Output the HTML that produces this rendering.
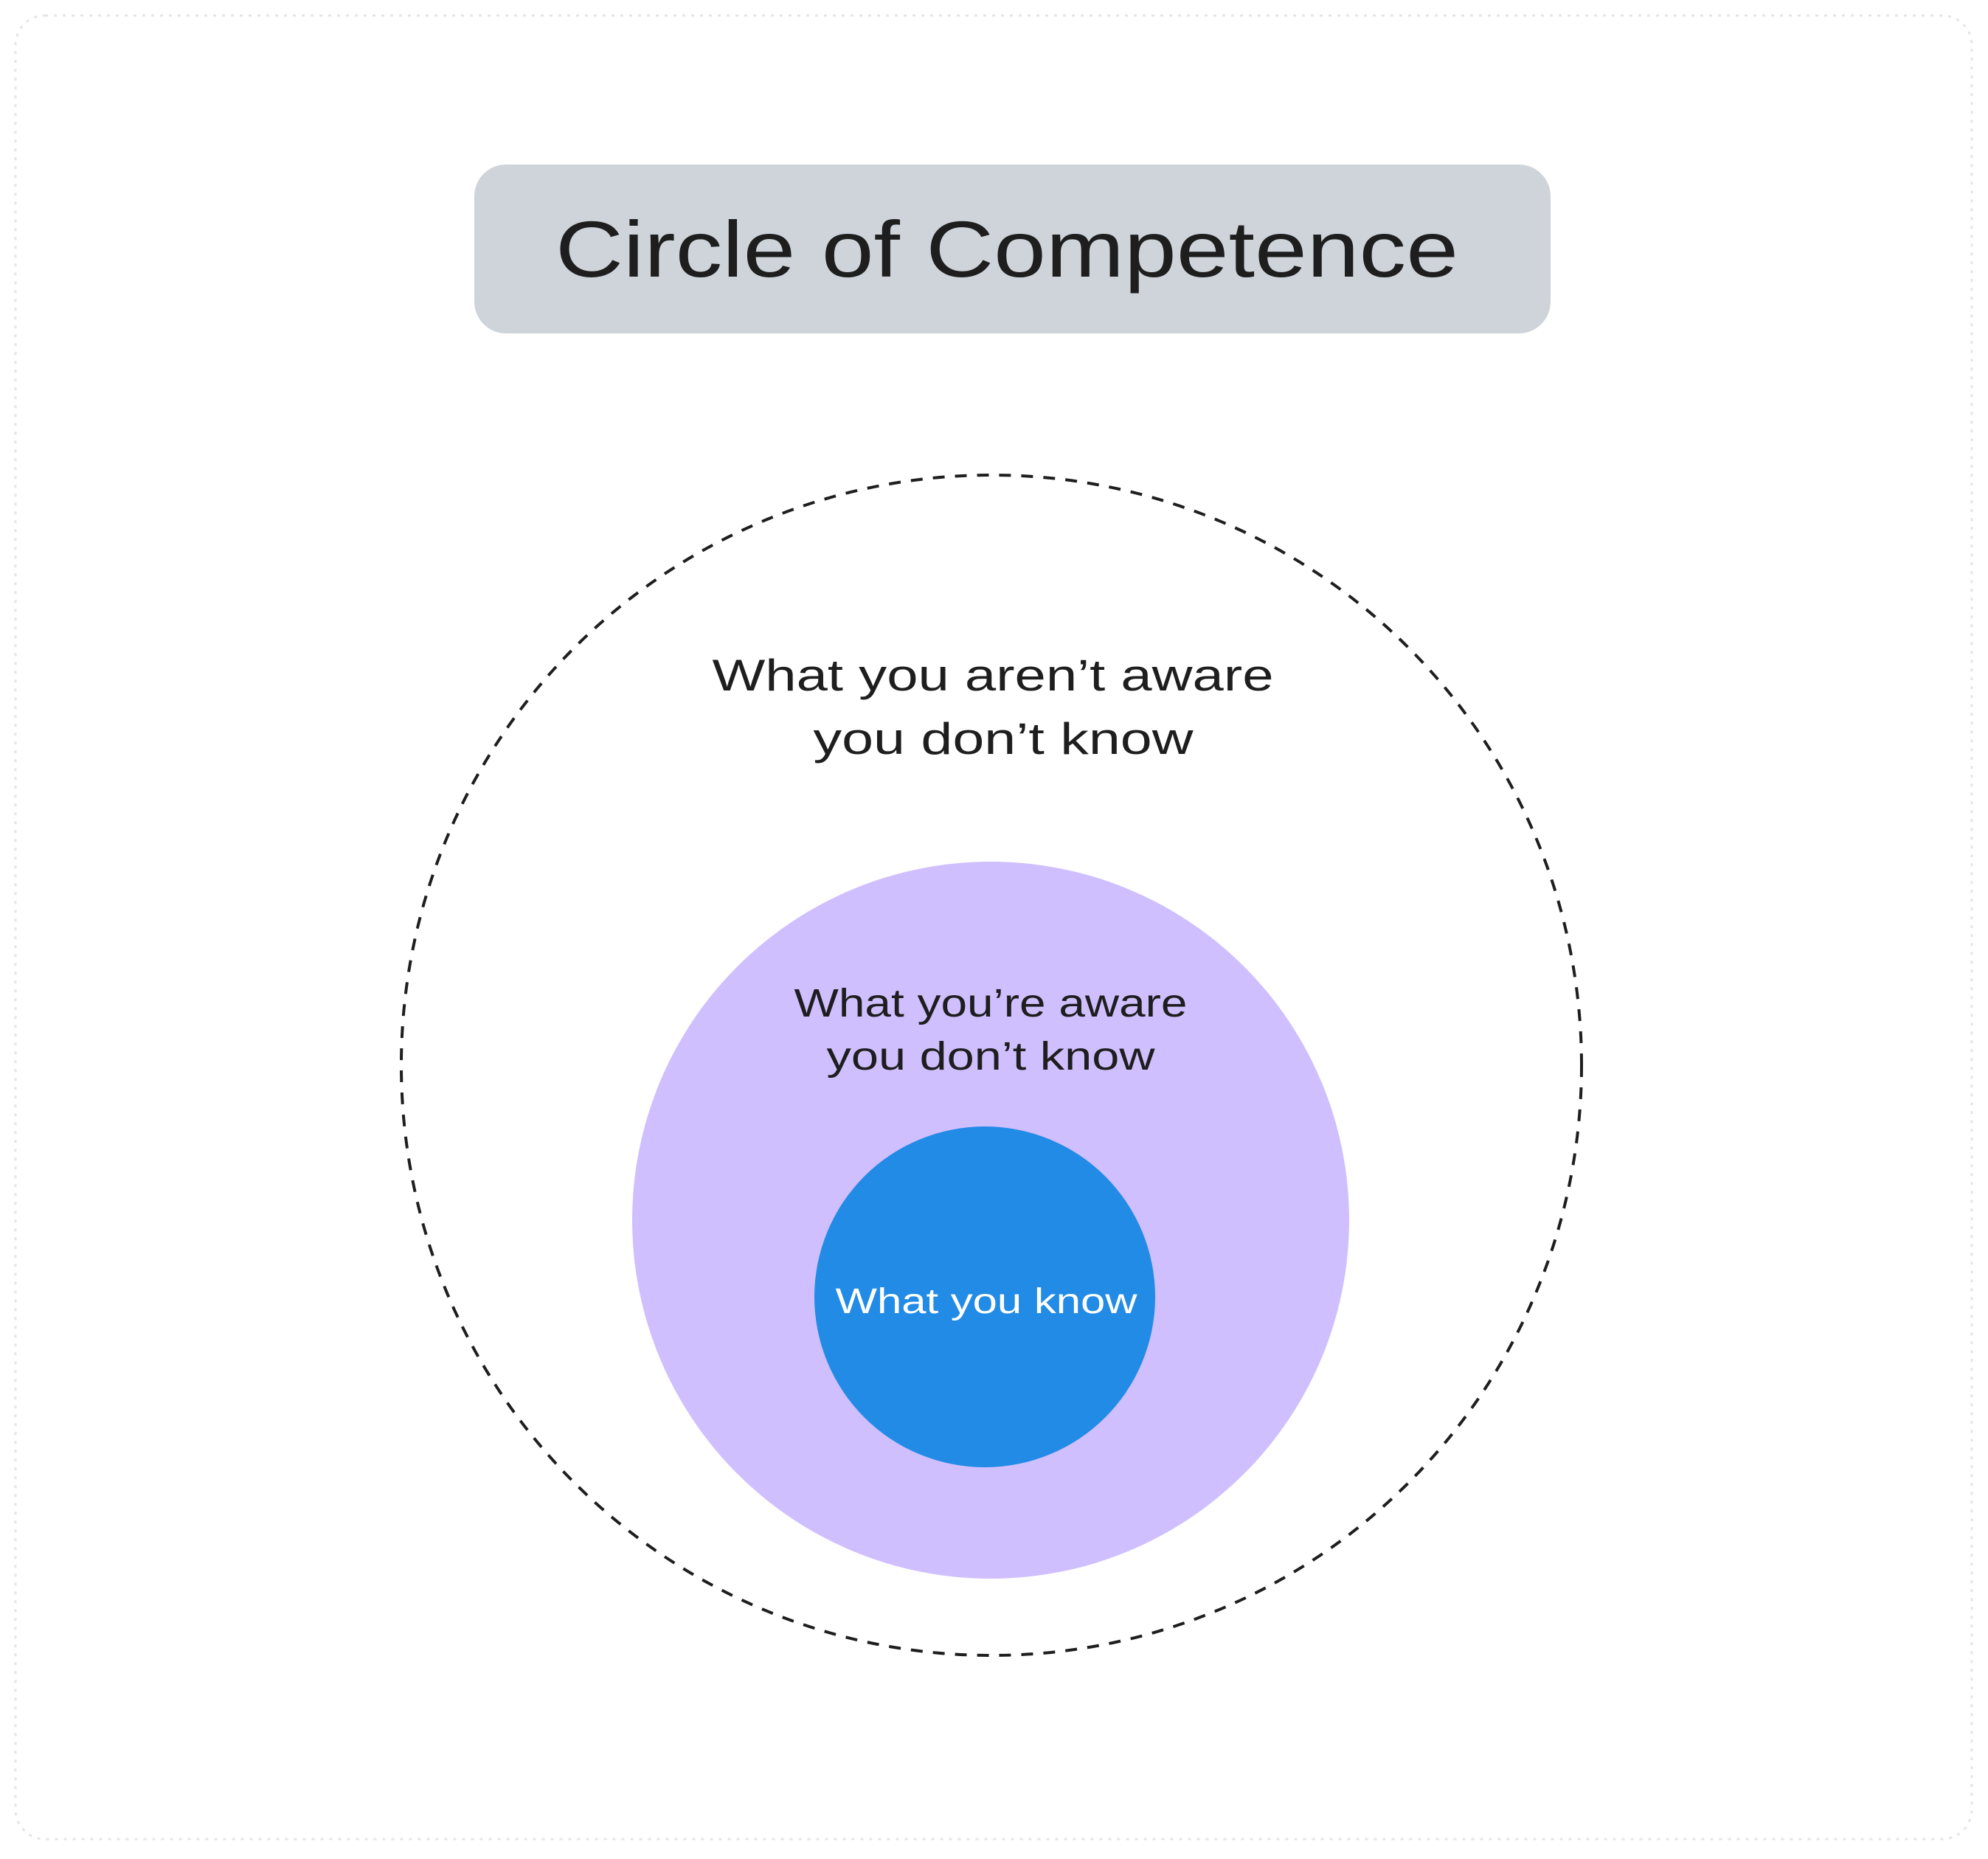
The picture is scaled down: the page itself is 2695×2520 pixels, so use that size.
<!DOCTYPE html>
<html><head><meta charset="utf-8"><style>
html,body{margin:0;padding:0;background:#fff;}
body{width:2695px;height:2515px;overflow:hidden;}
</style></head><body>
<svg width="2695" height="2515" viewBox="0 0 2695 2515" xmlns="http://www.w3.org/2000/svg">
<rect x="21" y="21" width="2652" height="2472" rx="40" fill="#fff" stroke="#e3e5e8" stroke-width="3" stroke-dasharray="4 8"/>
<rect x="643" y="223" width="1459" height="229" rx="43" fill="#ced4da"/>
<text x="1365" y="375" text-anchor="middle" font-family="Liberation Sans, sans-serif" font-size="108" fill="#1e1e1e" textLength="1224" lengthAdjust="spacingAndGlyphs">Circle of Competence</text>
<circle cx="1344" cy="1444" r="800" fill="none" stroke="#1e1e1e" stroke-width="4" stroke-dasharray="16 14"/>
<g font-family="Liberation Sans, sans-serif" font-size="60" fill="#1e1e1e" text-anchor="middle" lengthAdjust="spacingAndGlyphs">
<text x="1346" y="936" textLength="761" lengthAdjust="spacingAndGlyphs">What you aren’t aware</text>
<text x="1360" y="1022" textLength="515" lengthAdjust="spacingAndGlyphs">you don’t know</text>
</g>
<circle cx="1343" cy="1654" r="486" fill="#d0bfff"/>
<g font-family="Liberation Sans, sans-serif" font-size="54" fill="#1e1e1e" text-anchor="middle">
<text x="1343" y="1378" textLength="533" lengthAdjust="spacingAndGlyphs">What you’re aware</text>
<text x="1343" y="1450" textLength="445" lengthAdjust="spacingAndGlyphs">you don’t know</text>
</g>
<circle cx="1335" cy="1758" r="231" fill="#228be6"/>
<text x="1337" y="1780" text-anchor="middle" font-family="Liberation Sans, sans-serif" font-size="48" fill="#fff" textLength="409" lengthAdjust="spacingAndGlyphs">What you know</text>
</svg>
</body></html>
